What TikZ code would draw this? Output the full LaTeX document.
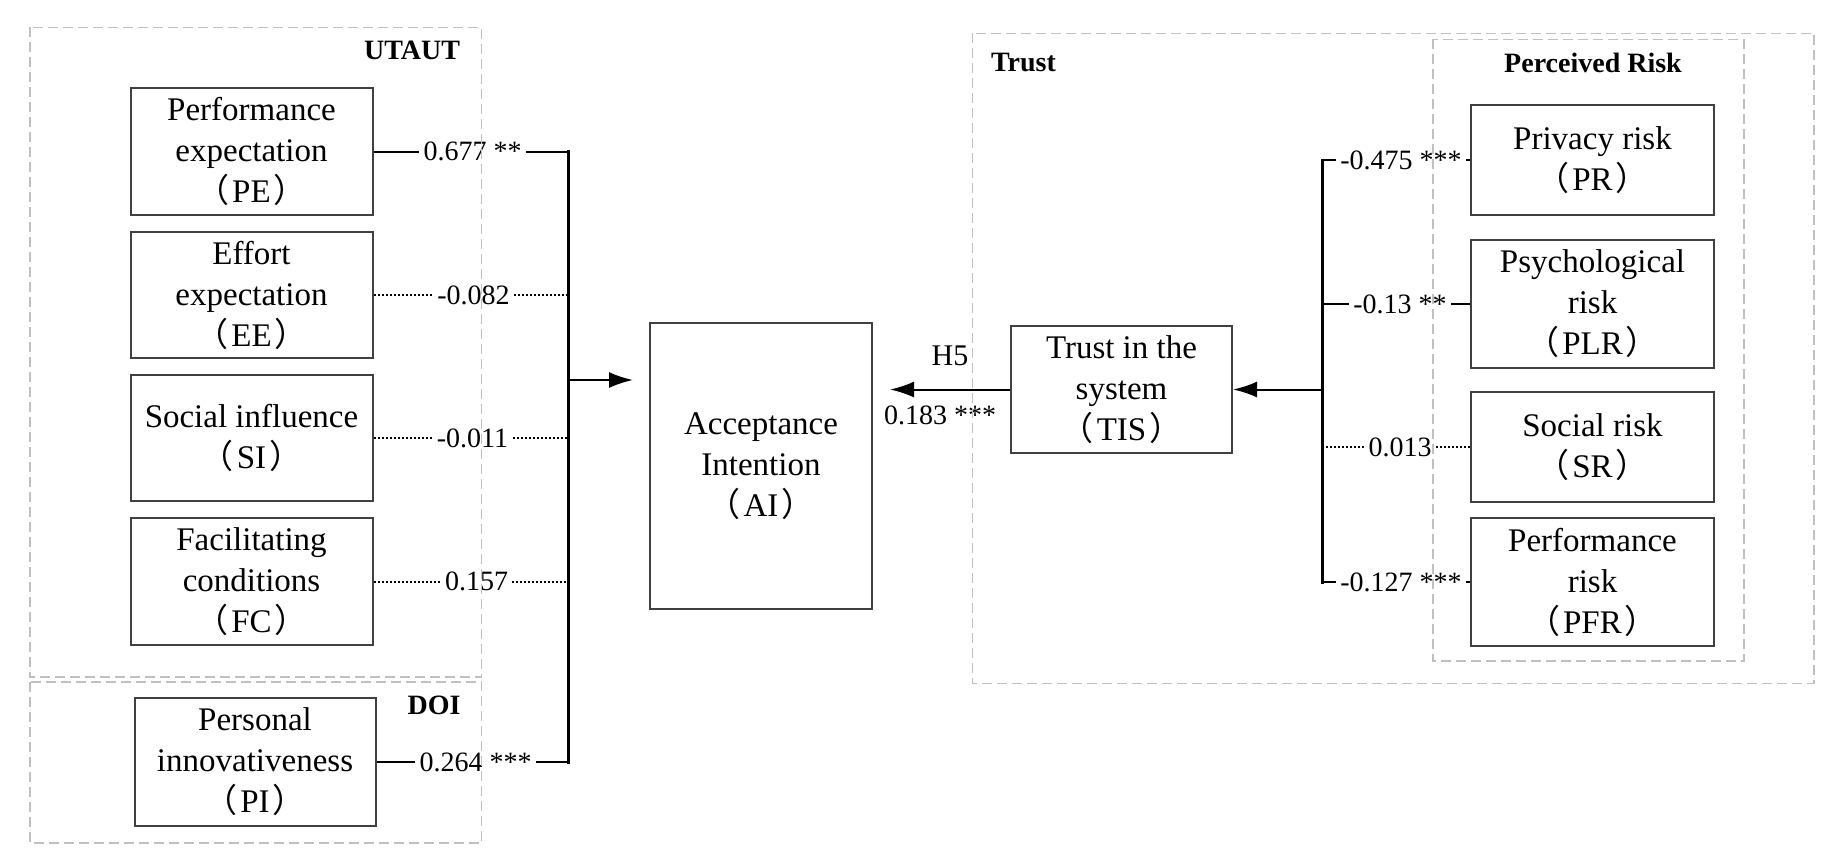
\documentclass[tikz,border=0pt]{standalone}
\usepackage{fontspec}
\setmainfont{Liberation Serif}
\newfontfamily\cjkf{Noto Sans CJK SC}
\usetikzlibrary{arrows.meta}
\newcommand{\LPar}{{\cjkf （}\kern1.5pt}
\newcommand{\RPar}{\kern1.5pt{\cjkf ）}}
\definecolor{boxgray}{RGB}{64,64,64}
\definecolor{framegray}{RGB}{192,192,192}
\begin{document}
\begin{tikzpicture}[x=0.5pt,y=-0.5pt,
  box/.style={draw=boxgray, line width=1pt, inner sep=0pt, align=center, font=\fontsize{16.5pt}{20.5pt}\selectfont},
  frame/.style={draw=framegray, line width=0.8pt, dash pattern=on 5pt off 2.5pt},
  lbl/.style={inner xsep=2pt, inner ysep=1pt, font=\fontsize{14pt}{16pt}\selectfont},
  ttl/.style={font=\bfseries\fontsize{14pt}{16pt}\selectfont, inner sep=0pt},
  conn/.style={line width=1pt},
  dotc/.style={line width=1pt, dash pattern=on 1pt off 1pt},
  busl/.style={line width=1.5pt, line cap=rect},
  arr/.style={line width=1pt, -{Latex[length=12pt,width=8pt]}}
]
\useasboundingbox (0,0) rectangle (1828,864);

% left nodes
\node[box, minimum width=121pt, minimum height=63.5pt] (PE) at (251.5,151.5) {Performance\\expectation\\\LPar PE\RPar};
\node[box, minimum width=121pt, minimum height=63pt] (EE) at (251.5,295) {Effort\\expectation\\\LPar EE\RPar};
\node[box, minimum width=121pt, minimum height=63pt] (SI) at (251.5,438) {Social influence\\\LPar SI\RPar};
\node[box, minimum width=121pt, minimum height=63.5pt] (FC) at (251.5,581.5) {Facilitating\\conditions\\\LPar FC\RPar};
\node[box, minimum width=120.5pt, minimum height=64pt] (PI) at (255,762) {Personal\\innovativeness\\\LPar PI\RPar};

% centre nodes
\node[box, minimum width=111pt, minimum height=143pt] (AI) at (761,466) {Acceptance\\Intention\\\LPar AI\RPar};
\node[box, minimum width=110.5pt, minimum height=63.5pt] (TIS) at (1121.5,389.5) {Trust in the\\system\\\LPar TIS\RPar};

% right nodes
\node[box, minimum width=121.5pt, minimum height=55pt] (PR) at (1592.5,160) {Privacy risk\\\LPar PR\RPar};
\node[box, minimum width=121.5pt, minimum height=64pt] (PLR) at (1592.5,304) {Psychological\\risk\\\LPar PLR\RPar};
\node[box, minimum width=121.5pt, minimum height=55pt] (SR) at (1592.5,447) {Social risk\\\LPar SR\RPar};
\node[box, minimum width=121.5pt, minimum height=64pt] (PFR) at (1592.5,582) {Performance\\risk\\\LPar PFR\RPar};

% path labels
\node[lbl] (lPE) at (472.5,151.5) {0.677 **};
\node[lbl] (lEE) at (473.5,295) {-0.082};
\node[lbl] (lSI) at (472.5,438) {-0.011};
\node[lbl] (lFC) at (476.5,581.5) {0.157};
\node[lbl] (lPI) at (475.5,762) {0.264 ***};
\node[lbl] (lPR) at (1401,160) {-0.475 ***};
\node[lbl] (lPLR) at (1400,304) {-0.13 **};
\node[lbl] (lSR) at (1400,447) {0.013};
\node[lbl] (lPFR) at (1401,582) {-0.127 ***};
\node[lbl, font=\fontsize{15pt}{17pt}\selectfont] (h5) at (950,356) {H5};
\node[lbl] (h5v) at (940,415) {0.183 ***};

% bus coordinates
\coordinate (bl) at (568.6,0);
\coordinate (br) at (1322,0);
\coordinate (aj) at (568.6,380);

% left connectors
\draw[conn] (PE) -- (lPE);  \draw[conn] (lPE) -- (lPE -| bl);
\draw[dotc] (EE) -- (lEE);  \draw[dotc] (lEE) -- (lEE -| bl);
\draw[dotc] (SI) -- (lSI);  \draw[dotc] (lSI) -- (lSI -| bl);
\draw[dotc] (FC) -- (lFC);  \draw[dotc] (lFC) -- (lFC -| bl);
\draw[conn] (PI) -- (lPI);  \draw[conn] (lPI) -- (lPI -| bl);
\draw[busl] (PE -| bl) -- (PI -| bl);
\draw[arr, shorten >=8pt] (aj) -- (aj -| AI.west);

% right connectors
\draw[conn] (PR) -- (lPR);  \draw[conn] (lPR) -- (lPR -| br);
\draw[conn] (PLR) -- (lPLR);  \draw[conn] (lPLR) -- (lPLR -| br);
\draw[dotc] (SR) -- (lSR);  \draw[dotc] (lSR) -- (lSR -| br);
\draw[conn] (PFR) -- (lPFR);  \draw[conn] (lPFR) -- (lPFR -| br);
\draw[busl] (PR -| br) -- (PFR -| br);
\draw[arr] (TIS -| br) -- (TIS.east);
\draw[arr, shorten >=8.5pt] (TIS.west) -- (TIS.west -| AI.east);

% group frames
\draw[frame] (29.7,27.3) rectangle (481.6,677);
\draw[frame] (29.7,682) rectangle (481.6,843);
\draw[frame] (972.4,33.3) rectangle (1814,683.3);
\draw[frame] (1433,39.3) rectangle (1744,661);

% group titles
\node[ttl] (tUT) at (412,50) {UTAUT};
\node[ttl] (tDOI) at (434,705) {DOI};
\node[ttl] (tTr) at (1023.5,62) {Trust};
\node[ttl] (tPRk) at (1593,63) {Perceived Risk};
\end{tikzpicture}
\end{document}
